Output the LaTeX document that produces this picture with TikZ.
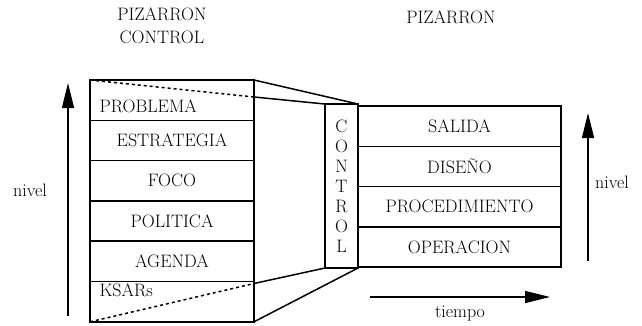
\documentclass[tikz,border=0pt]{standalone}
\usepackage{fontspec}
\usepackage{tikz}
\usetikzlibrary{calc, positioning, arrows.meta}

\begin{document}
\begin{tikzpicture}[x=1pt, y=-1pt, node distance=0pt,
	font=\fontsize{18}{21}\selectfont,
	cell/.style={draw, line width=1.5, outer sep=0, inner sep=0, minimum height=40.3, text centered},
	lcell/.style={cell, minimum width=164},
	rcell/.style={cell, minimum width=203},
	nivelarrow/.style={line width=1.3, -{Triangle[length=25pt, width=12pt]}}]

		\useasboundingbox (0,0) rectangle (642,325);

		% nodes - titles %
		\node[align=center, font=\fontsize{18}{23}\selectfont] (ttlctrl) at (162,26) {PIZARRON\\CONTROL};
		\node (ttlpiz) at (451,17) {PIZARRON};

		% nodes - left stack %
		\node[lcell, anchor=north west] (prob) at (90,80) {};
		\node[lcell, below=of prob] (estr) {ESTRATEGIA};
		\node[lcell, below=of estr] (foco) {FOCO};
		\node[lcell, below=of foco] (poli) {POLITICA};
		\node[lcell, below=of poli] (agen) {AGENDA};
		\node[lcell, below=of agen] (ksar) {};
		\node[anchor=west] (probtxt) at ([xshift=6, yshift=-6]prob.west) {PROBLEMA};
		\node[anchor=west] (ksartxt) at ([xshift=6, yshift=11]ksar.west) {KSARs};

		% nodes - control and right stack %
		\node[draw, line width=1.5, outer sep=0, inner sep=0, minimum width=33, minimum height=164,
			anchor=north west, align=center, font=\fontsize{18}{20}\selectfont] (ctrl) at (325,104) {C\\O\\N\\T\\R\\O\\L};
		\node[rcell, anchor=north west] (sali) at (358,106) {SALIDA};
		\node[rcell, below=of sali] (dise) {DISEÑO};
		\node[rcell, below=of dise] (proc) {PROCEDIMIENTO};
		\node[rcell, below=of proc] (oper) {OPERACION};

		% nodes - axes %
		\node (nivl) at (30,190) {nivel};
		\node (nivr) at (612,182) {nivel};
		\node (tiem) at (460,313) {tiempo};
		\coordinate (lup0) at (68,316);
		\coordinate (lup1) at (68,83);
		\coordinate (rup0) at (588,261);
		\coordinate (rup1) at (588,113);
		\coordinate (tim0) at (370,297);
		\coordinate (tim1) at (550,297);
		\coordinate (ptop) at ($(prob.north east)+(0,17)$);
		\coordinate (pbot) at ($(ksar.north east)+(0,2)$);

		% edges %
		\draw[line width=1.5] (prob.north east) -- (ctrl.north east);
		\draw[line width=1.5] (ptop) -- (ctrl.north west);
		\draw[dashed, line width=1.5] (prob.north west) -- (ptop);
		\draw[line width=1.5] (pbot) -- (ctrl.south west);
		\draw[line width=1.5] (ksar.south east) -- (ctrl.south east);
		\draw[dashed, line width=1.5] (ksar.south west) -- (pbot);
		\draw[nivelarrow] (lup0) -- (lup1);
		\draw[nivelarrow] (rup0) -- (rup1);
		\draw[nivelarrow] (tim0) -- (tim1);

\end{tikzpicture}
\end{document}
